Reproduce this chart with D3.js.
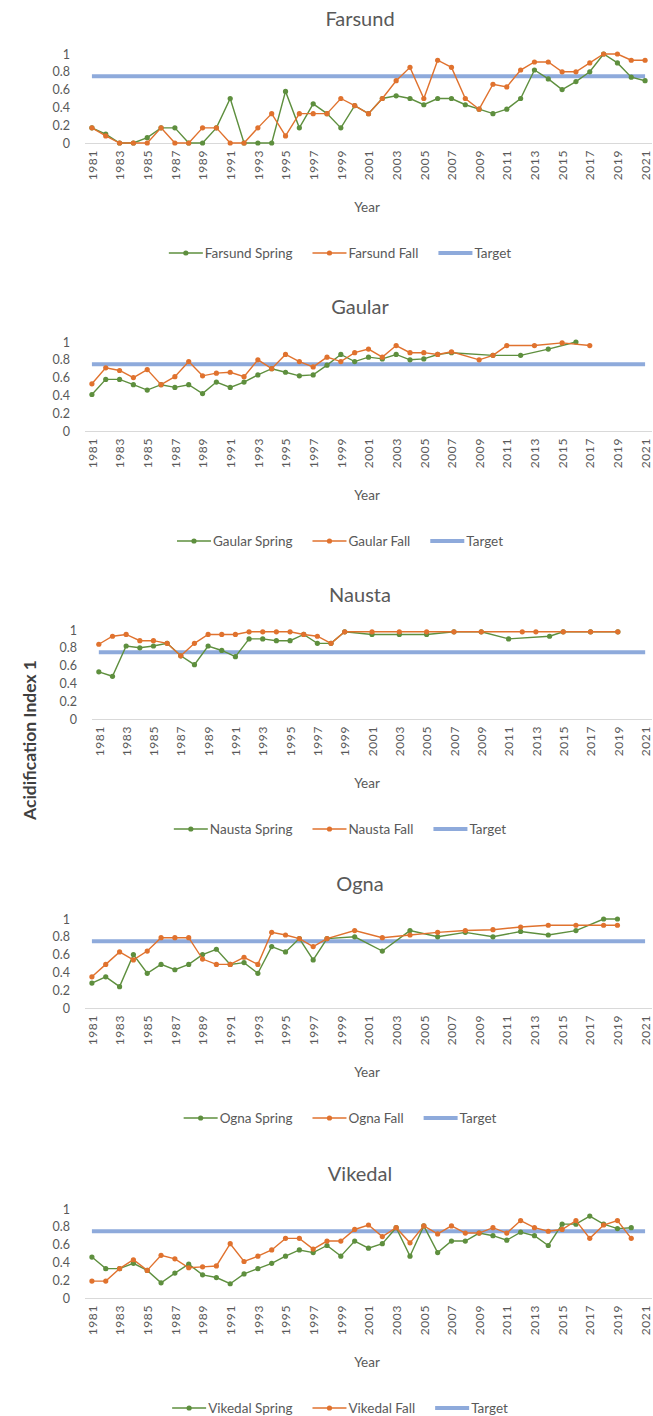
<!DOCTYPE html>
<html>
<head>
<meta charset="utf-8">
<script src="https://cdn.jsdelivr.net/npm/d3@7"></script>
<style>
  body { margin: 0; background: #fff; }
  text { font-family: Lato, "Open Sans", sans-serif; }
</style>
</head>
<body>
<script>
// categories
const years = [1981, 1982, 1983, 1984, 1985, 1986, 1987, 1988, 1989, 1990,
               1991, 1992, 1993, 1994, 1995, 1996, 1997, 1998, 1999, 2000,
               2001, 2002, 2003, 2004, 2005, 2006, 2007, 2008, 2009, 2010,
               2011, 2012, 2013, 2014, 2015, 2016, 2017, 2018, 2019, 2020, 2021];
const tickYears = [1981, 1983, 1985, 1987, 1989, 1991, 1993, 1995, 1997, 1999, 2001,
                   2003, 2005, 2007, 2009, 2011, 2013, 2015, 2017, 2019, 2021];
const yTicks = [0, 0.2, 0.4, 0.6, 0.8, 1];
const target = 0.75;
const sites = ['Farsund', 'Gaular', 'Nausta', 'Ogna', 'Vikedal'];

// series values, one per year (null = no sample)
const farsundSpring = [0.17, 0.10, 0, 0, 0.06, 0.17, 0.17, 0, 0, 0.17,
                       0.50, 0, 0, 0, 0.58, 0.17, 0.44, 0.33, 0.17, 0.42,
                       0.33, 0.50, 0.53, 0.50, 0.43, 0.50, 0.50, 0.43, 0.38, 0.33,
                       0.38, 0.50, 0.82, 0.72, 0.60, 0.69, 0.80, 1.00, 0.90, 0.74, 0.70];
const farsundFall = [0.17, 0.08, 0, 0, 0, 0.17, 0, 0, 0.17, 0.17,
                     0, 0, 0.17, 0.33, 0.08, 0.33, 0.33, 0.33, 0.50, 0.42,
                     0.33, 0.50, 0.70, 0.85, 0.50, 0.93, 0.85, 0.50, 0.38, 0.66,
                     0.63, 0.82, 0.91, 0.91, 0.80, 0.80, 0.90, 1.00, 1.00, 0.93, 0.93];

const gaularSpring = [0.41, 0.58, 0.58, 0.52, 0.46, 0.52, 0.49, 0.52, 0.42, 0.55,
                      0.49, 0.55, 0.63, 0.70, 0.66, 0.62, 0.63, 0.74, 0.86, 0.78,
                      0.83, 0.81, 0.86, 0.80, 0.81, 0.86, 0.88, null, null, 0.85,
                      null, 0.85, null, 0.92, null, 1.00, null, null, null, null, null];
const gaularFall = [0.53, 0.71, 0.68, 0.60, 0.69, 0.52, 0.61, 0.78, 0.62, 0.65,
                    0.66, 0.61, 0.80, 0.70, 0.86, 0.78, 0.72, 0.83, 0.78, 0.88,
                    0.92, 0.83, 0.96, 0.88, 0.88, 0.86, 0.89, null, 0.80, 0.85,
                    0.96, null, 0.96, null, 0.99, null, 0.96, null, null, null, null];

const naustaSpring = [0.53, 0.48, 0.82, 0.80, 0.82, 0.85, 0.71, 0.61, 0.82, 0.77,
                      0.70, 0.90, 0.90, 0.88, 0.88, 0.95, 0.85, 0.85, 0.98, null,
                      0.95, null, 0.95, null, 0.95, null, 0.98, null, 0.98, null,
                      0.90, null, null, 0.93, 0.98, null, 0.98, null, 0.98, null, null];
const naustaFall = [0.84, 0.93, 0.95, 0.88, 0.88, 0.85, 0.71, 0.85, 0.95, 0.95,
                    0.95, 0.98, 0.98, 0.98, 0.98, 0.95, 0.93, 0.85, 0.98, null,
                    0.98, null, 0.98, null, 0.98, null, 0.98, null, 0.98, null,
                    null, 0.98, 0.98, null, 0.98, null, 0.98, null, 0.98, null, null];

const ognaSpring = [0.28, 0.35, 0.24, 0.60, 0.39, 0.49, 0.43, 0.49, 0.60, 0.66,
                    0.49, 0.51, 0.39, 0.69, 0.63, 0.78, 0.54, 0.78, null, 0.80,
                    null, 0.64, null, 0.87, null, 0.80, null, 0.85, null, 0.80,
                    null, 0.86, null, 0.82, null, 0.87, null, 1.00, 1.00, null, null];
const ognaFall = [0.35, 0.49, 0.63, 0.54, 0.64, 0.79, 0.79, 0.79, 0.55, 0.49,
                  0.49, 0.57, 0.49, 0.85, 0.82, 0.78, 0.69, 0.78, null, 0.87,
                  null, 0.79, null, 0.82, null, 0.85, null, 0.87, null, 0.88,
                  null, 0.91, null, 0.93, null, 0.93, null, 0.93, 0.93, null, null];

const vikedalSpring = [0.46, 0.33, 0.33, 0.39, 0.31, 0.17, 0.28, 0.38, 0.26, 0.23,
                       0.16, 0.27, 0.33, 0.39, 0.47, 0.54, 0.51, 0.59, 0.47, 0.64,
                       0.56, 0.61, 0.79, 0.47, 0.81, 0.51, 0.64, 0.64, 0.73, 0.70,
                       0.65, 0.74, 0.70, 0.59, 0.83, 0.83, 0.92, 0.83, 0.78, 0.79, null];
const vikedalFall = [0.19, 0.19, 0.33, 0.43, 0.31, 0.48, 0.44, 0.34, 0.35, 0.36,
                     0.61, 0.41, 0.47, 0.54, 0.67, 0.67, 0.55, 0.64, 0.64, 0.77,
                     0.82, 0.69, 0.79, 0.62, 0.81, 0.72, 0.81, 0.73, 0.73, 0.79,
                     0.73, 0.87, 0.79, 0.75, 0.77, 0.87, 0.67, 0.82, 0.87, 0.67, null];

const springSeries = [farsundSpring, gaularSpring, naustaSpring, ognaSpring, vikedalSpring];
const fallSeries = [farsundFall, gaularFall, naustaFall, ognaFall, vikedalFall];

// layout
const width = 653;
const height = 1416;
const panelZero = [143, 431, 719, 1008, 1298];   // pixel of y = 0 in each panel
const panelLeft = [85, 85, 92, 85, 85];
const plotRight = 652;
const plotHeight = 89;

const springColour = '#5e8f3e';
const fallColour = '#e0722e';
const targetColour = '#8eaadb';
const textColour = '#595959';

const svg = d3.select('body')
              .append('svg')
                .attr('width', width)
                .attr('height', height);

sites.forEach((site, p) => {
    const y0 = panelZero[p];
    const left = panelLeft[p];

    const xScale = d3.scalePoint()
                     .domain(years)
                     .range([left, plotRight])
                     .padding(0.5);

    const yScale = d3.scaleLinear()
                     .domain([0, 1])
                     .range([y0, y0 - plotHeight]);

    const g = svg.append('g');

    // chart title
    g.append('text')
        .attr('x', 360)
        .attr('y', y0 - 124)
        .attr('dy', '0.35em')
        .attr('text-anchor', 'middle')
        .attr('font-size', 20)
        .attr('fill', textColour)
        .text(site);

    // y axis (labels only)
    const yAxis = g.append('g')
                   .attr('transform', `translate(${left}, 0)`)
                   .call(d3.axisLeft(yScale).tickValues(yTicks).tickSize(0).tickPadding(15)
                           .tickFormat((d) => String(d)));
    yAxis.select('.domain').remove();
    yAxis.selectAll('text')
         .attr('font-size', 12.5)
         .attr('font-family', 'Lato, sans-serif')
         .attr('fill', textColour);

    // x axis with rotated year labels
    const xAxis = g.append('g')
                   .attr('transform', `translate(0, ${y0})`)
                   .call(d3.axisBottom(xScale).tickValues(tickYears).tickSize(0));
    xAxis.select('.domain')
         .attr('stroke', '#d9d9d9')
         .attr('d', `M${left},0.5H${plotRight}`);
    xAxis.selectAll('text')
         .attr('transform', 'rotate(-90)')
         .attr('x', -7)
         .attr('y', 0)
         .attr('dy', '0.35em')
         .attr('text-anchor', 'end')
         .attr('font-size', 12)
         .attr('letter-spacing', 0.6)
         .attr('font-family', 'Lato, sans-serif')
         .attr('fill', textColour);

    g.append('text')
        .attr('x', 367)
        .attr('y', y0 + 64)
        .attr('dy', '0.35em')
        .attr('text-anchor', 'middle')
        .attr('font-size', 13.5)
        .attr('fill', textColour)
        .text('Year');

    // target line
    g.append('line')
        .attr('x1', xScale(years[0]))
        .attr('x2', xScale(years[years.length - 1]))
        .attr('y1', yScale(target))
        .attr('y2', yScale(target))
        .attr('stroke', targetColour)
        .attr('stroke-width', 4);

    // spring and fall lines, gaps are bridged like the original
    const series = [
        {values: springSeries[p], colour: springColour},
        {values: fallSeries[p], colour: fallColour}
    ];
    const line = d3.line()
                   .x((d) => xScale(d.year))
                   .y((d) => yScale(d.value));

    series.forEach((s) => {
        const points = years.map((year, i) => ({year: year, value: s.values[i]}))
                            .filter((d) => d.value !== null);
        g.append('path')
            .datum(points)
            .attr('d', line)
            .attr('fill', 'none')
            .attr('stroke', s.colour)
            .attr('stroke-width', 1.4);
        g.selectAll(null)
            .data(points)
            .enter()
              .append('circle')
                .attr('cx', (d) => xScale(d.year))
                .attr('cy', (d) => yScale(d.value))
                .attr('r', 2.6)
                .attr('fill', s.colour);
    });

    // legend
    const legendY = y0 + 110;
    const legend = g.append('g');
    const items = [
        {label: site + ' Spring', colour: springColour, marker: true, w: 1.4},
        {label: site + ' Fall', colour: fallColour, marker: true, w: 1.4},
        {label: 'Target', colour: targetColour, marker: false, w: 4}
    ];
    let cx = 0;
    items.forEach((item, i) => {
        legend.append('line')
            .attr('x1', cx).attr('x2', cx + 34)
            .attr('y1', legendY).attr('y2', legendY)
            .attr('stroke', item.colour)
            .attr('stroke-width', item.w);
        if (item.marker) {
            legend.append('circle')
                .attr('cx', cx + 17).attr('cy', legendY)
                .attr('r', 2.6)
                .attr('fill', item.colour);
        }
        const t = legend.append('text')
                    .attr('x', cx + 36)
                    .attr('y', legendY)
                    .attr('dy', '0.35em')
                    .attr('font-size', 13.5)
                    .attr('fill', textColour)
                    .text(item.label);
        cx += 36 + t.node().getComputedTextLength() + 20;
    });
    const legendWidth = cx - 20;
    legend.attr('transform', `translate(${340 - legendWidth / 2}, 0)`);
});

// shared y-axis title
svg.append('text')
    .attr('transform', 'translate(30, 740) rotate(-90)')
    .attr('dy', '0.35em')
    .attr('text-anchor', 'middle')
    .attr('font-size', 17.5)
    .attr('font-weight', 'bold')
    .attr('fill', '#3f3f3f')
    .text('Acidification Index 1');
</script>
</body>
</html>
